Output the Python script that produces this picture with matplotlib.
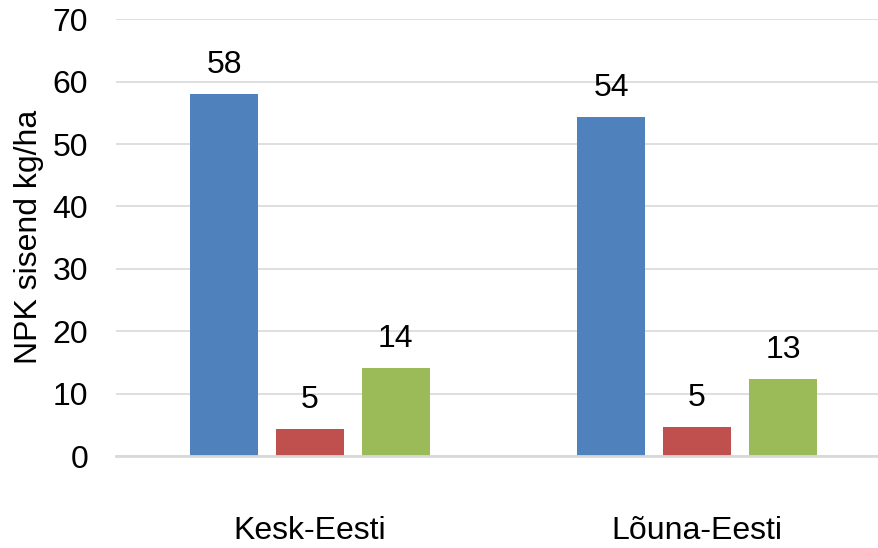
import matplotlib
matplotlib.use("Agg")
import matplotlib.pyplot as plt
import numpy as np

categories = ["Kesk-Eesti", "Lõuna-Eesti"]
series1 = [58.0, 54.3]
series2 = [4.4, 4.7]
series3 = [14.1, 12.4]
labels1 = ["58", "54"]
labels2 = ["5", "5"]
labels3 = ["14", "13"]
yticks = [0, 10, 20, 30, 40, 50, 60, 70]
ylabel = "NPK sisend kg/ha"

colors = ["#4F81BD", "#C0504D", "#9BBB59"]

plt.rcParams['font.family'] = ['Liberation Sans', 'DejaVu Sans']

W, H = 879, 548
fig = plt.figure(figsize=(W / 100, H / 100), dpi=100)
ax_left, ax_right = 116, 879
ax_top, ax_bottom = 19.3, 456
ax = fig.add_axes([ax_left / W, (H - ax_bottom) / H,
                   (ax_right - ax_left) / W, (ax_bottom - ax_top) / H])

x = np.arange(len(categories))
bw = 0.1757
step = 0.222
fs = 23
for i, (vals, labs) in enumerate([(series1, labels1), (series2, labels2), (series3, labels3)]):
    pos = x + (i - 1) * step
    bars = ax.bar(pos, vals, width=bw, color=colors[i], zorder=3)
    for b, lab in zip(bars, labs):
        ax.annotate(lab, (b.get_x() + b.get_width() / 2, b.get_height()),
                    xytext=(0, 10), textcoords="offset points",
                    ha="center", va="bottom", fontsize=fs, color="black")

ax.set_xlim(-0.5013, (879 - 310) / 387)
ax.set_ylim(0, 70)
ax.set_yticks(yticks)
ax.set_yticklabels([str(t) for t in yticks], fontsize=fs)
ax.set_xticks(x)
ax.set_xticklabels(categories, fontsize=fs)
ax.tick_params(axis='y', length=0, pad=20)
ax.tick_params(axis='x', length=0, pad=43)
ax.grid(axis='y', color="#D9D9D9", linewidth=1.2, zorder=0)
for s in ["left", "right", "top"]:
    ax.spines[s].set_visible(False)
ax.spines["bottom"].set_color("#D9D9D9")
ax.spines["bottom"].set_linewidth(2)
ax.spines["bottom"].set_zorder(4)

fig.text(29 / W, 1 - 237 / H, ylabel, rotation=90, ha="center", va="center", fontsize=fs)

fig.savefig("out.png", dpi=100)
